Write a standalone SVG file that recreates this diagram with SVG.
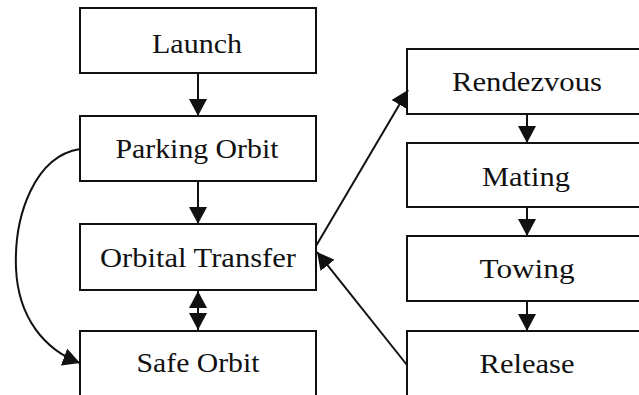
<svg xmlns="http://www.w3.org/2000/svg" width="639" height="395" viewBox="0 0 639 395">
  <style>
    .box { fill: #ffffff; stroke: #111111; stroke-width: 2; }
    .label { font-family: "Liberation Serif", "Times New Roman", serif; font-size: 27px; fill: #111111; text-anchor: middle; }
    .link { fill: none; stroke: #111111; stroke-width: 2; }
    .arrow { marker-end: url(#head); }
    .both { marker-start: url(#head); marker-end: url(#head); }
  </style>
  <defs>
    <marker id="head" viewBox="0 0 17 18" refX="17" refY="9" markerWidth="17" markerHeight="18" markerUnits="userSpaceOnUse" orient="auto-start-reverse">
      <path d="M0,0 L17,9 L0,18 Z" fill="#111111"/>
    </marker>
  </defs>
  <rect width="639" height="395" fill="#ffffff"/>

  <!-- left column -->
  <g id="launch">
    <rect class="box" x="80" y="8" width="236" height="65"/>
    <text class="label" x="197" y="53" textLength="90" lengthAdjust="spacingAndGlyphs">Launch</text>
  </g>
  <g id="parking-orbit">
    <rect class="box" x="80" y="116" width="236" height="65"/>
    <text class="label" x="197" y="158" textLength="163" lengthAdjust="spacingAndGlyphs">Parking Orbit</text>
  </g>
  <g id="orbital-transfer">
    <rect class="box" x="80" y="224" width="236" height="66"/>
    <text class="label" x="198" y="267" textLength="196" lengthAdjust="spacingAndGlyphs">Orbital Transfer</text>
  </g>
  <g id="safe-orbit">
    <rect class="box" x="80" y="331" width="236" height="80"/>
    <text class="label" x="198" y="372" textLength="123" lengthAdjust="spacingAndGlyphs">Safe Orbit</text>
  </g>

  <!-- right column -->
  <g id="rendezvous">
    <rect class="box" x="407" y="49" width="250" height="65"/>
    <text class="label" x="527" y="91" textLength="150" lengthAdjust="spacingAndGlyphs">Rendezvous</text>
  </g>
  <g id="mating">
    <rect class="box" x="407" y="143" width="250" height="64"/>
    <text class="label" x="526" y="186" textLength="88" lengthAdjust="spacingAndGlyphs">Mating</text>
  </g>
  <g id="towing">
    <rect class="box" x="407" y="236" width="250" height="65"/>
    <text class="label" x="527" y="278" textLength="95" lengthAdjust="spacingAndGlyphs">Towing</text>
  </g>
  <g id="release">
    <rect class="box" x="407" y="331" width="250" height="80"/>
    <text class="label" x="527" y="373" textLength="95" lengthAdjust="spacingAndGlyphs">Release</text>
  </g>

  <!-- connectors -->
  <g id="connectors">
    <line class="link arrow" x1="198" y1="73" x2="198" y2="116"/>
    <line class="link arrow" x1="198" y1="181" x2="198" y2="224"/>
    <line class="link both" x1="198" y1="291" x2="198" y2="330"/>
    <path class="link arrow" d="M80,149 C35,156 14,215 16,268 C18,318 45,350 80,363"/>
    <line class="link arrow" x1="527" y1="114" x2="527" y2="143"/>
    <line class="link arrow" x1="527" y1="207" x2="527" y2="236"/>
    <line class="link arrow" x1="527" y1="301" x2="527" y2="331"/>
    <line class="link arrow" x1="316" y1="246" x2="408" y2="90"/>
    <line class="link arrow" x1="407" y1="365" x2="317" y2="252"/>
  </g>
</svg>
